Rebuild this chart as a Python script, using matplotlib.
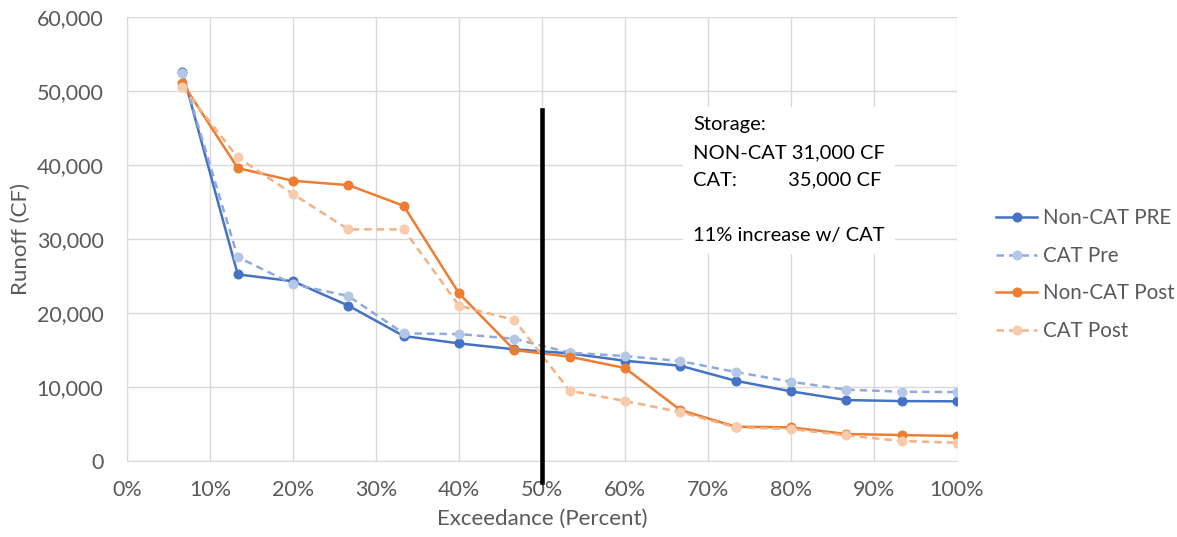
import numpy as np
import matplotlib.pyplot as plt
from matplotlib.ticker import FuncFormatter, MultipleLocator

plt.rcParams['font.family'] = ['Lato', 'DejaVu Sans']

# exceedance positions: 1/15 .. 15/15
exceed = [100 * i / 15 for i in range(1, 16)]

noncat_pre = [52600, 25230, 24300, 21000, 16900, 15900, 15100, 14550, 13550,
              12880, 10850, 9420, 8240, 8100, 8070]
cat_pre = [52400, 27570, 23900, 22300, 17250, 17160, 16530, 14640, 14190,
           13510, 12030, 10720, 9640, 9370, 9320]
noncat_post = [51120, 39600, 37880, 37300, 34500, 22660, 15000, 14100, 12570,
               6900, 4640, 4550, 3650, 3510, 3380]
cat_post = [50580, 41040, 36080, 31310, 31310, 21000, 19050, 9500, 8110,
            6620, 4550, 4320, 3470, 2700, 2470]

series = [
    ('Non-CAT PRE', noncat_pre, '#4472C4', '#4472C4', '-'),
    ('CAT Pre', cat_pre, '#8FAADC', '#B4C7E7', (0, (3, 2))),
    ('Non-CAT Post', noncat_post, '#ED7D31', '#ED7D31', '-'),
    ('CAT Post', cat_post, '#F4B183', '#F8CBAD', (0, (3, 2))),
]

fig = plt.figure(figsize=(11.77, 5.37), dpi=100)
ax = fig.add_axes([0.108, 0.1415, 0.705, 0.8265])

for name, vals, lc, mc, ls in series:
    ax.plot(exceed, vals, color=lc, linestyle=ls, linewidth=1.8,
            marker='o', markersize=6.2, markerfacecolor=mc,
            markeredgecolor=mc, label=name)

ax.set_xlim(0, 100)
ax.set_ylim(0, 60000)
ax.xaxis.set_major_locator(MultipleLocator(10))
ax.yaxis.set_major_locator(MultipleLocator(10000))
ax.xaxis.set_major_formatter(FuncFormatter(lambda v, p: '%d%%' % v))
ax.yaxis.set_major_formatter(FuncFormatter(lambda v, p: '{:,.0f}'.format(v)))
ax.grid(True, color='#D9D9D9', linewidth=1)
ax.set_axisbelow(True)
for s in ['top', 'right']:
    ax.spines[s].set_visible(False)
for s in ['left', 'bottom']:
    ax.spines[s].set_color('#D9D9D9')
ax.tick_params(length=0, labelsize=15.5, colors='#595959')
ax.tick_params(axis='y', pad=17)
ax.tick_params(axis='x', pad=14)

ax.set_xlabel('Exceedance (Percent)', fontsize=16, color='#595959', labelpad=6)
ax.set_ylabel('Runoff (CF)', fontsize=16, color='#595959', labelpad=4)

# 50% marker line
ax.plot([50, 50], [47400, -2850], color='black', linewidth=3.3, clip_on=False, zorder=5)

ax.text(68.2, 46600, 'Storage:\nNON-CAT 31,000 CF\nCAT:          35,000 CF\n\n11% increase w/ CAT',
        fontsize=14.5, color='black', va='top', ha='left', linespacing=1.76,
        bbox=dict(facecolor='white', edgecolor='none', pad=7), zorder=6)

ax.legend(loc='center left', bbox_to_anchor=(1.025, 0.42), frameon=False,
          fontsize=14.8, labelcolor='#595959', handlelength=2.0,
          handletextpad=0.3, labelspacing=0.85)

fig.savefig('out.png', dpi=100)
